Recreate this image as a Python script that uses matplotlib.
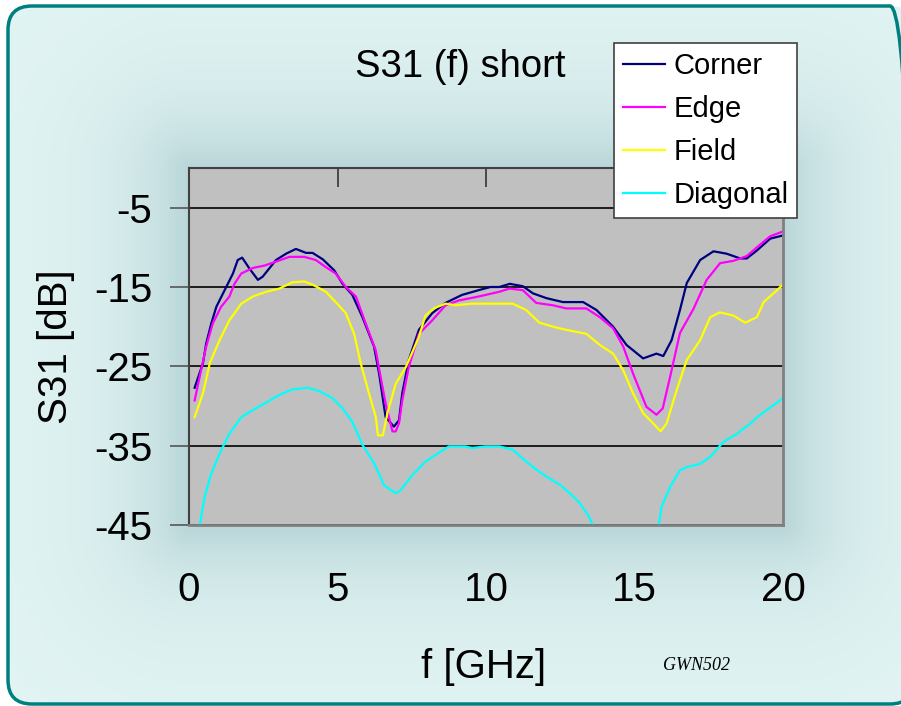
import matplotlib
matplotlib.use('Agg')
import matplotlib.pyplot as plt
from matplotlib.patches import FancyBboxPatch
from matplotlib.transforms import IdentityTransform
import numpy as np

plt.rcParams['font.family'] = ['Liberation Sans', 'DejaVu Sans']
plt.rcParams['axes.unicode_minus'] = False

# values (f in GHz, S31 in dB)
corner_f = [0.19, 0.47, 0.58, 0.75, 0.92, 1.2, 1.48, 1.64, 1.79, 2.04, 2.32, 2.48, 2.93, 3.27, 3.6,
            3.94, 4.16, 4.5, 4.89, 5.17, 5.5, 5.84, 6.23, 6.4, 6.62, 6.9, 7.07, 7.18, 7.4, 7.74,
            8.19, 8.64, 9.19, 9.75, 10.15, 10.45, 10.8, 11.24, 11.58, 12.03, 12.59, 13.27, 13.72, 14.28, 14.73,
            15.29, 15.74, 15.97, 16.25, 16.53, 16.76, 17.21, 17.66, 18.1, 18.56, 18.78, 19.12, 19.57, 20.0]
corner_db = [-27.7, -24.6, -22.1, -19.6, -17.5, -15.4, -13.3, -11.6, -11.3, -12.7, -14.1, -13.7, -11.6, -10.8, -10.2,
             -10.7, -10.7, -11.5, -12.9, -14.6, -16.0, -18.8, -22.5, -25.9, -31.4, -32.6, -31.8, -28.4, -24.2, -20.4,
             -18.3, -17.0, -16.0, -15.4, -15.0, -15.0, -14.6, -14.9, -15.8, -16.4, -16.9, -16.9, -17.9, -20.0, -22.3,
             -24.0, -23.4, -23.7, -21.7, -17.9, -14.5, -11.6, -10.5, -10.8, -11.4, -11.4, -10.4, -8.9, -8.5]

edge_f = [0.19, 0.36, 0.58, 0.8, 1.08, 1.36, 1.53, 1.76, 2.15, 2.54, 2.93, 3.38, 3.88, 4.27, 4.61,
          4.94, 5.28, 5.62, 5.95, 6.29, 6.45, 6.62, 6.85, 6.96, 7.07, 7.18, 7.4, 7.74, 8.19, 8.64,
          9.08, 9.75, 10.45, 10.79, 11.24, 11.69, 12.25, 12.7, 13.38, 13.83, 14.28, 14.62, 14.95, 15.4, 15.74,
          15.95, 16.2, 16.53, 16.98, 17.43, 17.88, 18.33, 18.78, 19.12, 19.57, 20.0]
edge_db = [-29.3, -26.3, -22.5, -19.6, -17.5, -16.2, -14.6, -13.3, -12.6, -12.3, -11.8, -11.2, -11.2, -11.6, -12.5,
           -13.3, -15.0, -16.2, -19.6, -23.0, -26.3, -29.7, -33.2, -33.2, -32.2, -29.3, -25.1, -20.9, -19.2, -17.3,
           -16.7, -16.2, -15.6, -15.2, -15.4, -17.0, -17.3, -17.7, -17.7, -18.8, -20.2, -22.5, -25.9, -30.1, -31.1,
           -30.3, -26.3, -20.8, -17.8, -14.1, -12.0, -11.7, -11.1, -10.0, -8.6, -8.0]

field_f = [0.19, 0.47, 0.7, 1.03, 1.36, 1.76, 2.15, 2.6, 3.04, 3.49, 3.88, 4.16, 4.61, 4.94, 5.28,
           5.56, 5.78, 6.06, 6.29, 6.36, 6.53, 6.68, 6.96, 7.3, 7.74, 7.96, 8.24, 8.64, 8.97, 9.53,
           10.9, 11.35, 11.8, 12.25, 12.7, 13.38, 13.83, 14.28, 14.62, 14.95, 15.29, 15.63, 15.88, 16.08, 16.42,
           16.76, 17.21, 17.55, 17.88, 18.33, 18.73, 19.12, 19.35, 19.68, 20.0]
field_db = [-31.4, -28.4, -24.6, -21.7, -19.2, -17.1, -16.2, -15.6, -15.2, -14.4, -14.3, -14.7, -15.6, -16.9, -18.3,
            -20.9, -24.6, -28.4, -31.4, -33.7, -33.7, -30.9, -27.2, -25.1, -21.3, -18.6, -17.7, -17.1, -17.3, -17.1,
            -17.1, -17.9, -19.5, -20.0, -20.4, -20.9, -22.3, -23.4, -25.5, -28.4, -30.9, -32.2, -33.2, -32.2, -28.0,
            -24.2, -21.7, -18.8, -18.2, -18.6, -19.5, -18.8, -16.9, -15.8, -14.7]

# diagonal dips below the -45 dB floor, those points get clipped
diag_f = [0.27, 0.36, 0.53, 0.75, 1.03, 1.36, 1.76, 2.15, 2.54, 3.04, 3.49, 3.99, 4.38, 4.83, 5.17,
          5.5, 5.84, 6.23, 6.57, 6.96, 7.13, 7.52, 7.96, 8.41, 8.75, 9.31, 9.53, 9.98, 10.45, 10.9,
          11.35, 11.69, 12.03, 12.48, 12.82, 13.15, 13.43, 13.6, 13.72, 15.78, 15.82, 15.91, 16.2, 16.53, 16.76,
          17.21, 17.55, 18.0, 18.45, 18.9, 19.23, 19.68, 20.0]
diag_db = [-47, -45.0, -41.4, -38.5, -36.0, -33.5, -31.4, -30.5, -29.7, -28.6, -27.9, -27.7, -28.1, -29.0, -30.3,
           -32.0, -34.9, -37.2, -40.0, -41.0, -40.6, -38.7, -37.0, -35.9, -35.1, -35.1, -35.3, -35.1, -35.1, -35.5,
           -37.0, -38.0, -38.9, -39.9, -41.0, -42.2, -43.7, -45.0, -47, -47, -45.0, -42.7, -40.2, -38.1, -37.7,
           -37.3, -36.4, -34.5, -33.5, -32.2, -31.1, -29.9, -29.0]

x_ticks = [0, 5, 10, 15, 20]
y_ticks = [-45, -35, -25, -15, -5]

W, H = 901, 706
# plot area in pixels (left, top, right, bottom)
L, T, R, B = 189, 168, 783, 525


def draw_background(fig):
    bg = fig.add_axes([0, 0, 1, 1], zorder=0)
    yy, xx = np.mgrid[0:H, 0:W] + 0.5
    dx = np.maximum(np.maximum(L - xx, xx - R), 0)
    dy = np.maximum(np.maximum(T - yy, yy - B), 0)
    s = np.exp(-np.hypot(dx, dy) / 60.0)
    base = np.array([226, 244, 244]) / 255.
    dark = np.array([184, 213, 215]) / 255.
    img = base + (dark - base) * s[..., None]
    im = bg.imshow(img, extent=(0, W, H, 0), interpolation='bilinear', aspect='auto')
    bg.set_xlim(0, W)
    bg.set_ylim(H, 0)
    bg.axis('off')
    # panel in pixel units, origin bottom left; it runs off the right edge
    panel = FancyBboxPatch((8, H - 704), 906, 698, boxstyle='round,pad=0,rounding_size=24',
                           fc='none', ec='#007f7f', lw=2.5, transform=IdentityTransform(), zorder=5)
    fig.add_artist(panel)
    im.set_clip_path(panel)


def plot_chart():
    fig = plt.figure(figsize=(W / 100, H / 100), dpi=100)
    fig.patch.set_facecolor('white')
    draw_background(fig)

    ax = fig.add_axes([L / W, 1 - B / H, (R - L) / W, (B - T) / H], zorder=1)
    ax.set_facecolor('#c0c0c0')
    ax.plot(corner_f, corner_db, color='#000080', lw=1.6, label='Corner')
    ax.plot(edge_f, edge_db, color='#ff00ff', lw=1.6, label='Edge')
    ax.plot(field_f, field_db, color='#ffff00', lw=1.6, label='Field')
    ax.plot(diag_f, diag_db, color='#00ffff', lw=1.6, label='Diagonal')

    ax.set_xlim(0, 20)
    ax.set_ylim(-45, 0)
    ax.set_xticks(x_ticks)
    ax.set_yticks(y_ticks)
    ax.set_axisbelow(True)
    ax.grid(axis='y', color='black', lw=1.2)

    ax.tick_params(axis='y', direction='out', length=14, width=1.2, color='#555555',
                   labelsize=29, pad=12.5)
    ax.tick_params(axis='x', bottom=False, top=True, labelbottom=True, labeltop=False,
                   direction='in', length=14, width=1.2, color='#333333', labelsize=29, pad=33)
    for side in ['left', 'top']:
        ax.spines[side].set_color('#404040')
        ax.spines[side].set_linewidth(1.5)
    for side in ['right', 'bottom']:
        ax.spines[side].set_color('#808080')
        ax.spines[side].set_linewidth(2)

    ax.set_xlabel('f [GHz]', fontsize=29, va='center')
    ax.xaxis.set_label_coords((484 - L) / (R - L), -(667 - B) / (B - T))
    ax.set_ylabel('S31 [dB]', fontsize=29, va='center')
    ax.yaxis.set_label_coords(-(L - 56) / (R - L), 0.5)

    fig.text(460 / W, 1 - 77 / H, 'S31 (f) short', fontsize=27.5, ha='center', va='baseline')
    fig.text(663 / W, 1 - 670 / H, 'GWN502', fontsize=13, style='italic',
             family='Liberation Serif', ha='left', va='baseline')

    leg = ax.legend(loc='upper right', bbox_to_anchor=(797 / W, 1 - 43 / H),
                    bbox_transform=fig.transFigure, fontsize=21, frameon=True, fancybox=False,
                    framealpha=1, edgecolor='#404040', borderaxespad=0, borderpad=0.3,
                    labelspacing=0.52, handlelength=1.45, handletextpad=0.28)
    leg.get_frame().set_linewidth(1.2)

    fig.savefig('out.png', dpi=100)


if __name__ == '__main__':
    plot_chart()
